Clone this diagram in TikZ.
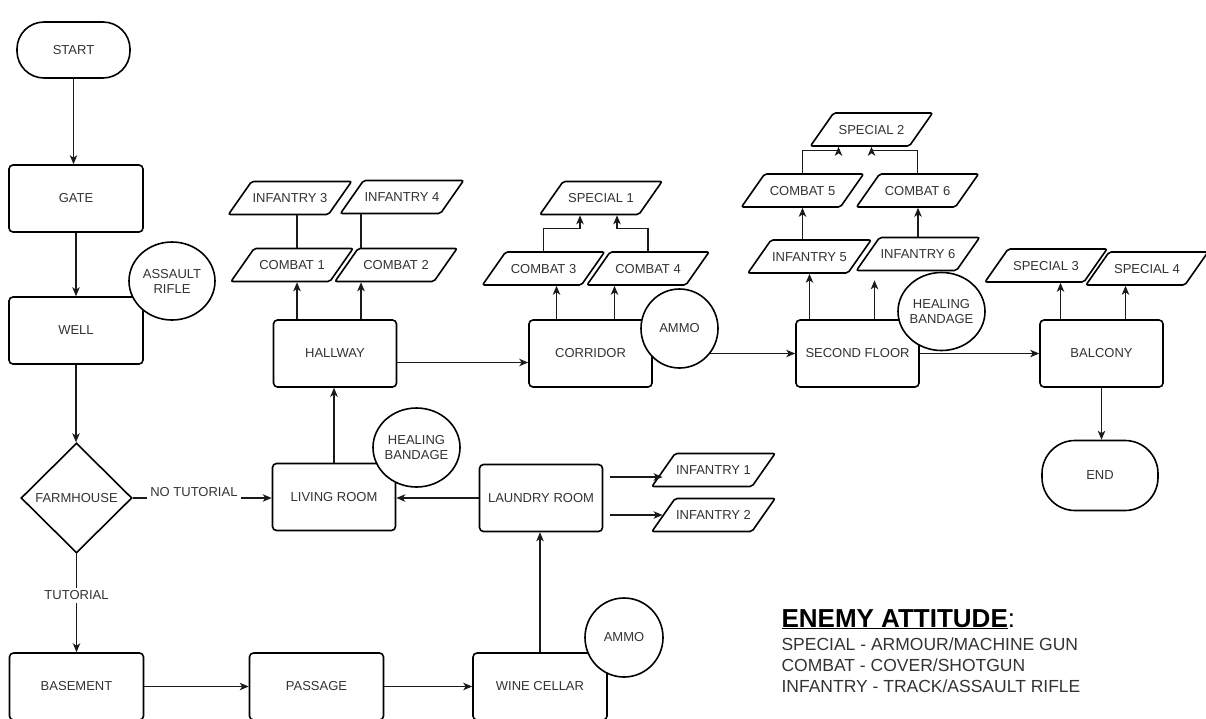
\documentclass[tikz,border=0pt]{standalone}
\usepackage{fontspec}
\setmainfont{Liberation Sans}
\usetikzlibrary{shapes.geometric,arrows.meta,calc}
\definecolor{ink}{HTML}{333333}
\definecolor{edge}{HTML}{1A1A1A}
\begin{document}
\begin{tikzpicture}[x=1pt,y=-1pt,
  lbl/.style={text=ink,font=\fontsize{13}{15}\selectfont},
  room/.style={draw=black,line width=1.6pt,rounded corners=4pt,fill=white,
    minimum width=123pt,minimum height=67pt,inner sep=0pt,lbl},
  wide/.style={room,minimum width=134pt},
  term/.style={room,minimum width=113pt,minimum height=56pt,rounded corners=27pt},
  enemy/.style={trapezium,trapezium left angle=55,trapezium right angle=125,
    trapezium stretches body,draw=black,line width=1.6pt,rounded corners=2pt,
    fill=white,text height=9.5pt,text depth=0pt,inner ysep=11.75pt,inner xsep=1pt,
    minimum width=122pt,lbl},
  pickup/.style={ellipse,draw=black,line width=1.6pt,fill=white,inner sep=0pt,
    label={[lbl,align=center]center:#1}},
  choice/.style={diamond,draw=black,line width=1.6pt,fill=white,
    minimum width=111pt,minimum height=110pt,inner sep=0pt,label={[lbl]center:#1}},
  link/.style={draw=edge,line width=1.1pt},
  arr/.style={link,-{Stealth[length=9pt,width=7.5pt,inset=2.5pt]}},
  tag/.style={lbl,fill=white,inner sep=3pt},
  legendhead/.style={anchor=base west,text=black,font=\fontsize{26}{30}\selectfont\bfseries},
  legendline/.style={anchor=base west,lbl,font=\fontsize{17.5}{21}\selectfont},
]
\useasboundingbox (0,0) rectangle (1206,718);

% ---- rooms ----
\node[term] (start) at (73.5,50) {START};
\node[wide] (gate) at (76,198.5) {GATE};
\node[wide] (well) at (76,330.5) {WELL};
\node[choice=FARMHOUSE] (farm) at (76.5,498) {};
\node[wide] (base) at (76.5,686.5) {BASEMENT};
\node[wide] (pass) at (316.5,686.5) {PASSAGE};
\node[wide] (wine) at (540,686.5) {WINE CELLAR};
\node[room] (living) at (334,497) {LIVING ROOM};
\node[room] (laundry) at (541,498) {LAUNDRY ROOM};
\node[room] (hall) at (335,353.5) {HALLWAY};
\node[room] (corr) at (590.5,353.5) {CORRIDOR};
\node[room] (sf) at (857.5,353.5) {SECOND FLOOR};
\node[room] (balc) at (1101.5,353.5) {BALCONY};
\node[term,minimum width=116pt,minimum height=70pt,rounded corners=33pt] (finish) at (1100,475.5) {END};

% ---- enemy groups ----
\node[enemy] (inf1) at (713.5,470) {INFANTRY 1};
\node[enemy] (inf2) at (713.5,515) {INFANTRY 2};
\node[enemy] (inf3) at (290,198) {INFANTRY 3};
\node[enemy] (inf4) at (402,197) {INFANTRY 4};
\node[enemy] (c1) at (292,265) {COMBAT 1};
\node[enemy] (c2) at (396,265) {COMBAT 2};
\node[enemy] (sp1) at (601,198) {SPECIAL 1};
\node[enemy] (c3) at (543.5,268.5) {COMBAT 3};
\node[enemy] (c4) at (648,268.5) {COMBAT 4};
\node[enemy] (sp2) at (871.5,129.5) {SPECIAL 2};
\node[enemy] (c5) at (802.5,190.5) {COMBAT 5};
\node[enemy] (c6) at (917.5,190.5) {COMBAT 6};
\node[enemy] (inf5) at (809.5,256.5) {INFANTRY 5};
\node[enemy] (inf6) at (918,254) {INFANTRY 6};
\node[enemy] (sp3) at (1046,265.5) {SPECIAL 3};
\node[enemy] (sp4) at (1147,268.5) {SPECIAL 4};

% ---- main route ----
\draw[arr] (start.south) -- (start.south |- gate.north);
\draw[arr] (gate.south) -- (gate.south |- well.north);
\draw[arr] (well.south) -- (well.south |- farm.north);
\draw[arr] (farm.south) -- (farm.south |- base.north) node[tag,pos=0.42] {TUTORIAL};
\draw[arr] (farm.east) -- (farm.east -| living.west) node[tag,pos=0.44,yshift=6pt] {NO TUTORIAL};
\draw[arr] (base.east) -- (pass.west);
\draw[arr] (pass.east) -- (wine.west);
\draw[arr] (wine.north) -- (wine.north |- laundry.south);
\draw[arr] (laundry.west) -- (laundry.west -| living.east);
\draw[arr,shorten <=7pt] ([yshift=21pt]laundry.east) -- ([yshift=21pt]laundry.east -| inf1.west);
\draw[arr,shorten <=7pt] ([yshift=-17pt]laundry.east) -- ([yshift=-17pt]laundry.east -| inf2.west);
\draw[arr] (living.north) -- (living.north |- hall.south);
\draw[arr] ([yshift=-9pt]hall.east) -- ([yshift=-9pt]hall.east -| corr.west);
\draw[arr] (corr.east) -- (corr.east -| sf.west);
\draw[arr] (sf.east) -- (sf.east -| balc.west);
\draw[arr] (balc.south) -- (balc.south |- finish.north);

% ---- hallway encounters ----
\draw[arr] ([xshift=-38pt]hall.north) -- ([xshift=-38pt]hall.north |- c1.south);
\draw[link] ([xshift=-38pt]hall.north |- c1.north) -- ([xshift=-38pt]hall.north |- inf3.south);
\draw[arr] ([xshift=26pt]hall.north) -- ([xshift=26pt]hall.north |- c2.south);
\draw[link] ([xshift=26pt]hall.north |- c2.north) -- ([xshift=26pt]hall.north |- inf4.south);

% ---- corridor encounters ----
\draw[arr] ([xshift=-34pt]corr.north) -- ([xshift=-34pt]corr.north |- c3.south);
\draw[arr] ([xshift=24pt]corr.north) -- ([xshift=24pt]corr.north |- c4.south);
\draw[arr] (c3.north) -- ++(0,-23) -| ([xshift=-21pt]sp1.south);
\draw[arr] (c4.north) -- ++(0,-23) -| ([xshift=16pt]sp1.south);

% ---- second floor encounters ----
\draw[arr] ([xshift=-48pt]sf.north) -- ([xshift=-48pt]sf.north |- inf5.south);
\draw[arr,shorten >=9pt] ([xshift=17pt]sf.north) -- ([xshift=17pt]sf.north |- inf6.south);
\draw[arr] (inf5.north -| c5.south) -- (c5.south);
\draw[arr] (inf6.north) -- (inf6.north |- c6.south);
\draw[arr] (c5.north) -- ++(0,-23) -| ([xshift=-33pt]sp2.south);
\draw[arr] (c6.north) -- ++(0,-23) -| (sp2.south);

% ---- balcony encounters ----
\draw[arr] ([xshift=-41pt]balc.north) -- ([xshift=-41pt]balc.north |- sp3.south);
\draw[arr] ([xshift=24pt]balc.north) -- ([xshift=24pt]balc.north |- sp4.south);

% ---- pickups ----
\node[pickup={ASSAULT\\RIFLE},minimum width=86pt,minimum height=78pt] (rifle) at (172,281) {};
\node[pickup={HEALING\\BANDAGE},minimum width=87pt,minimum height=79pt] (band1) at (416.5,447.5) {};
\node[pickup=AMMO,minimum width=77pt,minimum height=79pt] (ammo1) at (679.5,328.5) {};
\node[pickup={HEALING\\BANDAGE},minimum width=87pt,minimum height=78pt] (band2) at (941.5,311.5) {};
\node[pickup=AMMO,minimum width=78pt,minimum height=79pt] (ammo2) at (624,637.5) {};

% ---- legend ----
\node[legendhead] (lhead) at (778,627) {\underline{ENEMY ATTITUDE}\textmd{:}};
\node[legendline] (l1) at (778,650) {SPECIAL - ARMOUR/MACHINE GUN};
\node[legendline] (l2) at (778,671) {COMBAT - COVER/SHOTGUN};
\node[legendline] (l3) at (778,692) {INFANTRY - TRACK/ASSAULT RIFLE};
\end{tikzpicture}
\end{document}
